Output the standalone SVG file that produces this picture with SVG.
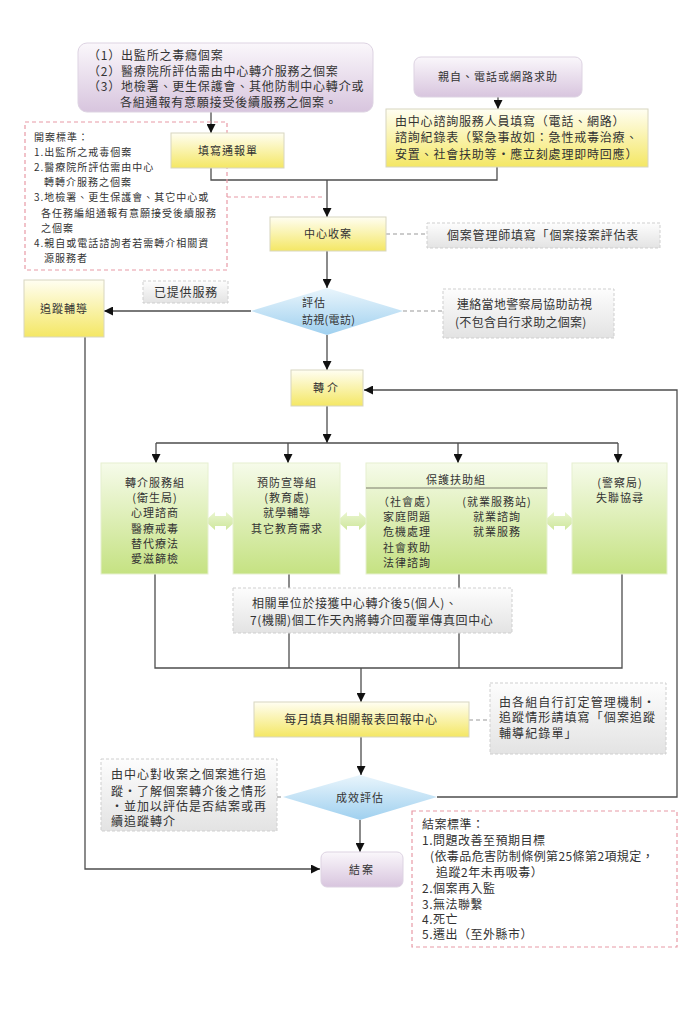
<svg xmlns="http://www.w3.org/2000/svg" width="680" height="1016" viewBox="0 0 680 1016">
<style>
text{font-family:"Noto Sans CJK TC","Noto Sans CJK SC",sans-serif;fill:#333;}
.t12{font-size:12px;letter-spacing:0.8px;}
.t11{font-size:11px;letter-spacing:1px;}
.t10{font-size:10px;letter-spacing:1px;}
.c{text-anchor:middle;}
.ln{fill:none;stroke:#4d4d4d;stroke-width:1.3;}
.dl{fill:none;stroke:#9a9a9a;stroke-width:1.2;stroke-dasharray:4 3;}
.pk{fill:none;stroke:#e89aa6;stroke-width:1.2;stroke-dasharray:4 3;}
.yel{fill:url(#gy);stroke:#d8d6c0;stroke-width:1;}
.pur{fill:url(#gp);stroke:#ddd3e2;stroke-width:1;}
.grn{fill:url(#gg);stroke:#e6f0d0;stroke-width:1;}
.gry{fill:url(#gr);stroke:#cfcfcf;stroke-width:1;stroke-dasharray:3 2;}
.dba{fill:url(#ga);}
</style>
<defs>
<linearGradient id="gy" x1="0" y1="0" x2="0" y2="1"><stop offset="0" stop-color="#fffef2"/><stop offset="1" stop-color="#f4e764"/></linearGradient>
<linearGradient id="gp" x1="0" y1="0" x2="0" y2="1"><stop offset="0" stop-color="#faf7fb"/><stop offset="1" stop-color="#d8c5de"/></linearGradient>
<linearGradient id="gg" x1="0" y1="0" x2="0" y2="1"><stop offset="0" stop-color="#f6fbea"/><stop offset="1" stop-color="#c5e282"/></linearGradient>
<linearGradient id="gb" x1="0" y1="0" x2="0" y2="1"><stop offset="0" stop-color="#e9f5fc"/><stop offset="1" stop-color="#9fd0ef"/></linearGradient>
<linearGradient id="gr" x1="0" y1="0" x2="0" y2="1"><stop offset="0" stop-color="#fdfdfd"/><stop offset="1" stop-color="#e3e3e3"/></linearGradient>
<linearGradient id="ga" x1="0" y1="0" x2="0" y2="1"><stop offset="0" stop-color="#e9f5cf"/><stop offset="1" stop-color="#cfe79c"/></linearGradient>
<marker id="ar" markerUnits="userSpaceOnUse" markerWidth="9" markerHeight="9" refX="9" refY="4.5" orient="auto"><path d="M0,0 L9,4.5 L0,9 z" fill="#111"/></marker>
</defs>

<g id="connectors">
<path class="ln" d="M211,112 V133" marker-end="url(#ar)"/>
<path class="ln" d="M211,168 V180 H497 V167"/>
<path class="ln" d="M498,97 V109" marker-end="url(#ar)"/>
<path class="ln" d="M327,180 V217" marker-end="url(#ar)"/>
<path class="ln" d="M327,251 V288" marker-end="url(#ar)"/>
<path class="ln" d="M251,311 H104" marker-end="url(#ar)"/>
<path class="ln" d="M327,335 V370" marker-end="url(#ar)"/>
<path class="ln" d="M327,406 V443" marker-end="url(#ar)"/>
<path class="ln" d="M156,443 H618"/>
<path class="ln" d="M156,443 V463" marker-end="url(#ar)"/>
<path class="ln" d="M288,443 V463" marker-end="url(#ar)"/>
<path class="ln" d="M458,443 V463" marker-end="url(#ar)"/>
<path class="ln" d="M618,443 V463" marker-end="url(#ar)"/>
<path class="ln" d="M155,574 V668 H622 V574"/>
<path class="ln" d="M289,574 V668"/>
<path class="ln" d="M459,574 V668"/>
<path class="ln" d="M361,668 V702" marker-end="url(#ar)"/>
<path class="ln" d="M361,737 V775" marker-end="url(#ar)"/>
<path class="ln" d="M360,820 V852" marker-end="url(#ar)"/>
<path class="ln" d="M85,337 V869 H320" marker-end="url(#ar)"/>
<path class="ln" d="M437,797 H677 V390 H364" marker-end="url(#ar)"/>
<path class="dl" d="M386,234 H427"/>
<path class="dl" d="M403,311 H443"/>
<path class="dl" d="M469,720 H490"/>
<path class="dl" d="M277,797 H283"/>
<path class="pk" d="M227,197 H325"/>
</g>

<g id="n-sources">
<rect class="pur" x="78" y="43" width="295" height="69" rx="9"/>
<text class="t12" x="88" y="60">（1）出監所之毒癮個案</text>
<text class="t12" x="88" y="76">（2）醫療院所評估需由中心轉介服務之個案</text>
<text class="t12" x="88" y="91">（3）地檢署、更生保護會、其他防制中心轉介或</text>
<text class="t12" x="120" y="107">各組通報有意願接受後續服務之個案。</text>
</g>

<g id="n-criteria-open">
<rect class="pk" x="25" y="122" width="202" height="148"/>
<text class="t10" x="34" y="141">開案標準：</text>
<text class="t10" x="34" y="156">1.出監所之戒毒個案</text>
<text class="t10" x="34" y="171">2.醫療院所評估需由中心</text>
<text class="t10" x="44" y="186">轉轉介服務之個案</text>
<text class="t10" x="34" y="201">3.地檢署、更生保護會、其它中心或</text>
<text class="t10" x="41" y="217">各任務編組通報有意願接受後續服務</text>
<text class="t10" x="41" y="232">之個案</text>
<text class="t10" x="34" y="247">4.親自或電話諮詢者若需轉介相關資</text>
<text class="t10" x="44" y="262">源服務者</text>
</g>

<g id="n-report">
<rect class="yel" x="171" y="133" width="113" height="35"/>
<text class="t11 c" x="228" y="155">填寫通報單</text>
</g>

<g id="n-selfhelp">
<rect class="pur" x="414" y="57" width="168" height="40" rx="7"/>
<text class="t11 c" x="498" y="81">親自、電話或網路求助</text>
</g>

<g id="n-consult">
<rect class="yel" x="386" y="109" width="262" height="58"/>
<text class="t12" x="395" y="126">由中心諮詢服務人員填寫（電話、網路）</text>
<text class="t12" x="395" y="142">諮詢紀錄表（緊急事故如：急性戒毒治療、</text>
<text class="t12" x="395" y="159">安置、社會扶助等・應立刻處理即時回應）</text>
</g>

<g id="n-intake">
<rect class="yel" x="270" y="217" width="116" height="34"/>
<text class="t11 c" x="328" y="238">中心收案</text>
</g>

<g id="n-intake-note">
<rect class="gry" x="427" y="223" width="233" height="25"/>
<text class="t12 c" x="543" y="240">個案管理師填寫「個案接案評估表</text>
</g>

<g id="n-followup">
<rect class="yel" x="24" y="280" width="80" height="57"/>
<text class="t11 c" x="64" y="313">追蹤輔導</text>
</g>

<g id="n-served">
<rect class="gry" x="143" y="281" width="85" height="22"/>
<text class="t12 c" x="186" y="297">已提供服務</text>
</g>

<g id="n-assess">
<polygon points="327,288 403,311 327,335 251,311" fill="url(#gb)"/>
<text class="t11" x="302" y="307">評估</text>
<text class="t11" x="302" y="324" style="letter-spacing:0.3px">訪視(電訪)</text>
</g>

<g id="n-police-note">
<rect class="gry" x="443" y="289" width="171" height="49"/>
<text class="t12" x="457" y="309" style="letter-spacing:0.3px">連絡當地警察局協助訪視</text>
<text class="t12" x="455" y="327" style="letter-spacing:0.3px">(不包含自行求助之個案)</text>
</g>

<g id="n-referral">
<rect class="yel" x="291" y="370" width="72" height="36"/>
<text class="t11 c" x="327" y="392" style="letter-spacing:3px">轉介</text>
</g>

<g id="n-arrows-between">
<polygon class="dba" points="205,521 215,512 215,516 226,516 226,512 236,521 226,530 226,526 215,526 215,530"/>
<polygon class="dba" points="337,521 347,512 347,516 359,516 359,512 369,521 359,530 359,526 347,526 347,530"/>
<polygon class="dba" points="544,521 554,512 554,516 565,516 565,512 575,521 565,530 565,526 554,526 554,530"/>
</g>

<g id="n-group1">
<rect class="grn" x="101" y="463" width="107" height="111"/>
<text class="t11 c" x="155" y="487">轉介服務組</text>
<text class="t11 c" x="155" y="502">(衛生局)</text>
<text class="t11 c" x="155" y="517">心理諮商</text>
<text class="t11 c" x="155" y="533">醫療戒毒</text>
<text class="t11 c" x="155" y="548">替代療法</text>
<text class="t11 c" x="155" y="563">愛滋篩檢</text>
</g>

<g id="n-group2">
<rect class="grn" x="233" y="463" width="107" height="111"/>
<text class="t11 c" x="287" y="487">預防宣導組</text>
<text class="t11 c" x="287" y="502">(教育處)</text>
<text class="t11 c" x="287" y="517">就學輔導</text>
<text class="t11 c" x="287" y="533">其它教育需求</text>
</g>

<g id="n-group3">
<rect class="grn" x="366" y="463" width="181" height="111"/>
<line x1="366" y1="488" x2="547" y2="488" stroke="#7a7a6a" stroke-width="1"/>
<text class="t11 c" x="456" y="484">保護扶助組</text>
<text class="t11" x="378" y="506">（社會處）</text>
<text class="t11" x="383" y="521">家庭問題</text>
<text class="t11" x="383" y="536">危機處理</text>
<text class="t11" x="383" y="552">社會救助</text>
<text class="t11" x="383" y="567">法律諮詢</text>
<text class="t11 c" x="497" y="506">(就業服務站)</text>
<text class="t11 c" x="497" y="521">就業諮詢</text>
<text class="t11 c" x="497" y="536">就業服務</text>
</g>

<g id="n-group4">
<rect class="grn" x="572" y="463" width="95" height="111"/>
<text class="t11 c" x="620" y="487">(警察局)</text>
<text class="t11 c" x="620" y="502">失聯協尋</text>
</g>

<g id="n-reply-note">
<rect class="gry" x="233" y="588" width="279" height="45"/>
<text class="t12" x="252" y="608" style="letter-spacing:0.6px">相關單位於接獲中心轉介後5(個人)、</text>
<text class="t12" x="250" y="625" style="letter-spacing:0.6px">7(機關)個工作天內將轉介回覆單傳真回中心</text>
</g>

<g id="n-monthly">
<rect class="yel" x="254" y="702" width="215" height="35"/>
<text class="t12 c" x="361" y="724">每月填具相關報表回報中心</text>
</g>

<g id="n-monthly-note">
<rect class="gry" x="490" y="683" width="176" height="71"/>
<text class="t12" x="499" y="707" style="letter-spacing:1.1px">由各組自行訂定管理機制・</text>
<text class="t12" x="499" y="722" style="letter-spacing:1.1px">追蹤情形請填寫「個案追蹤</text>
<text class="t12" x="499" y="738" style="letter-spacing:1.1px">輔導紀錄單」</text>
</g>

<g id="n-evaluate">
<polygon points="360,775 437,797 360,820 283,797" fill="url(#gb)"/>
<text class="t11 c" x="360" y="802">成效評估</text>
</g>

<g id="n-eval-note">
<rect class="gry" x="101" y="759" width="176" height="72"/>
<text class="t12" x="111" y="779" style="letter-spacing:1px">由中心對收案之個案進行追</text>
<text class="t12" x="111" y="796" style="letter-spacing:1px">蹤・了解個案轉介後之情形</text>
<text class="t12" x="111" y="811" style="letter-spacing:1px">・並加以評估是否結案或再</text>
<text class="t12" x="111" y="826" style="letter-spacing:1px">續追蹤轉介</text>
</g>

<g id="n-close">
<rect class="pur" x="321" y="852" width="82" height="35" rx="6"/>
<text class="t11 c" x="362" y="874" style="letter-spacing:2px">結案</text>
</g>

<g id="n-criteria-close">
<rect class="pk" x="412" y="811" width="265" height="136"/>
<text class="t12" x="422" y="829" style="letter-spacing:0.5px">結案標準：</text>
<text class="t12" x="422" y="845" style="letter-spacing:0.5px">1.問題改善至預期目標</text>
<text class="t12" x="430" y="861" style="letter-spacing:0.4px">(依毒品危害防制條例第25條第2項規定，</text>
<text class="t12" x="436" y="877" style="letter-spacing:0.5px">追蹤2年未再吸毒）</text>
<text class="t12" x="422" y="893" style="letter-spacing:0.5px">2.個案再入監</text>
<text class="t12" x="422" y="909" style="letter-spacing:0.5px">3.無法聯繫</text>
<text class="t12" x="422" y="924" style="letter-spacing:0.5px">4.死亡</text>
<text class="t12" x="422" y="939" style="letter-spacing:0.5px">5.遷出（至外縣市）</text>
</g>
</svg>
